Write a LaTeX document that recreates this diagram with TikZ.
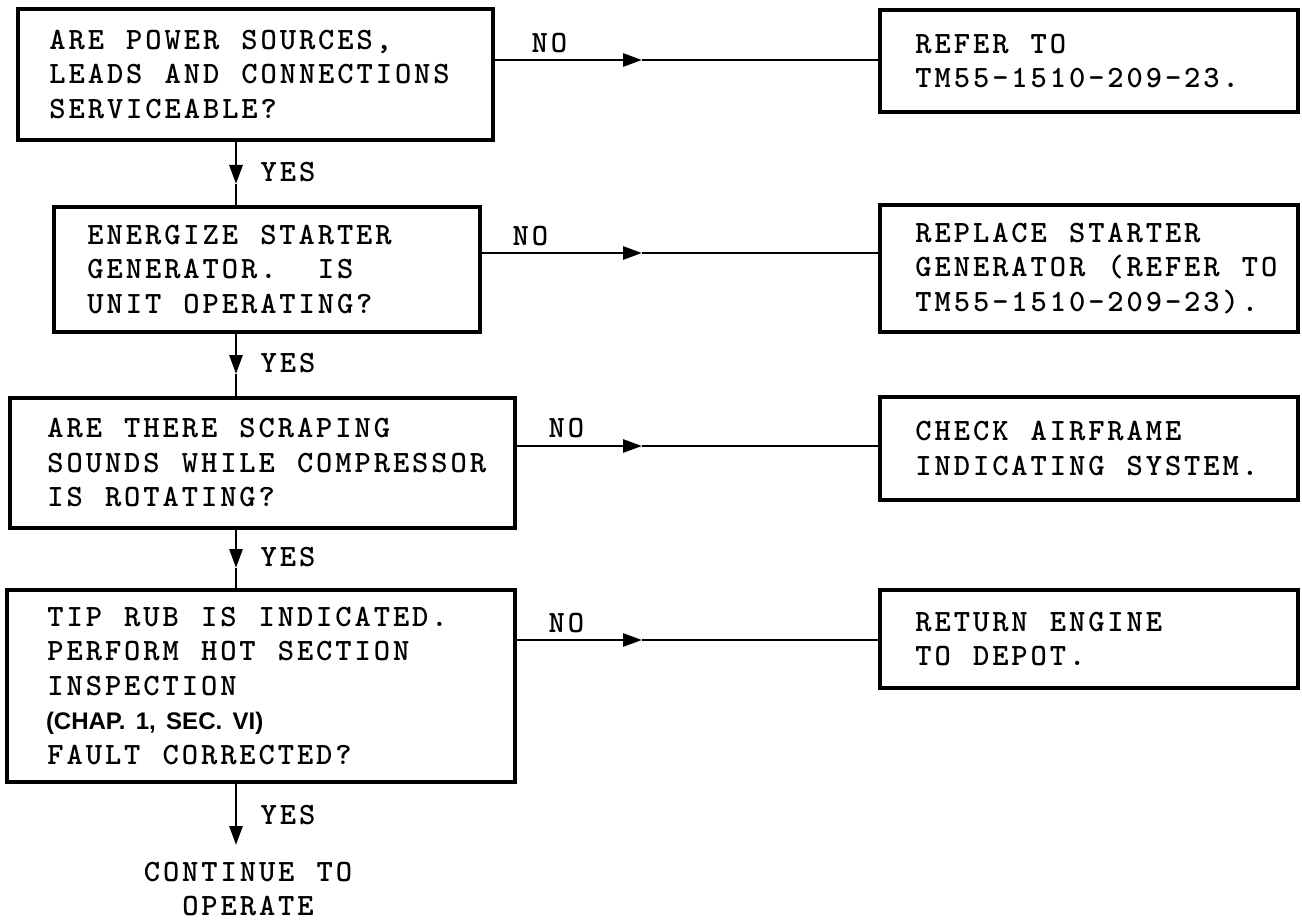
\documentclass[tikz,border=0pt]{standalone}
\usepackage{fontspec}
\usetikzlibrary{arrows.meta}
\newfontfamily\tw{lmmonolt10-bold.otf}
\newfontfamily\chapfont{Liberation Sans}
\ExplSyntaxOn
\dim_new:N \l_typ_pitch_dim
\dim_set:Nn \l_typ_pitch_dim {19.2pt}
\NewDocumentCommand\typ{m}
 {
  \mode_leave_vertical:
  \str_map_inline:nn {#1}
   {
    \str_if_eq:nnTF {##1} {|}
     { \hbox_to_wd:nn { \l_typ_pitch_dim } { } }
     { \hbox_to_wd:nn { \l_typ_pitch_dim } { \hss ##1 \hss } }
   }
 }
\ExplSyntaxOff
\newcommand\twf{\tw\fontsize{31}{34.5}\selectfont}
\tikzset{
  box/.style={draw, line width=4.5pt, rectangle, align=left, inner ysep=0pt, font=\twf},
  lbl/.style={font=\twf, inner sep=0pt, anchor=west},
  conn/.style={line width=2.8pt},
  head/.style={line width=2.8pt, -{Triangle[length=19pt,width=13pt]}},
}
\begin{document}
\begin{tikzpicture}[x=1pt,y=-1pt]
\useasboundingbox (0,0) rectangle (1302,923);
% left column
\node[box, minimum height=131pt, text width=415pt, inner xsep=30pt] (b1) at (255.5,74.5)
  {\typ{ARE POWER SOURCES,}\\\typ{LEADS AND CONNECTIONS}\\\typ{SERVICEABLE?}};
\node[box, minimum height=125pt, text width=362pt, inner xsep=32pt] (b2) at (267,269.5)
  {\typ{ENERGIZE STARTER}\\\typ{GENERATOR. |IS}\\\typ{UNIT OPERATING?}};
\node[box, minimum height=130pt, text width=433pt, inner xsep=36pt] (b3) at (262.5,463)
  {\typ{ARE THERE SCRAPING}\\\typ{SOUNDS WHILE COMPRESSOR}\\\typ{IS ROTATING?}};
\node[box, minimum height=192pt, text width=430pt, inner xsep=39pt] (b4) at (261,686)
  {\typ{TIP RUB IS INDICATED.}\\\typ{PERFORM HOT SECTION}\\\typ{INSPECTION}\\{\chapfont\bfseries\fontsize{24}{34.5}\selectfont (CHAP. 1, SEC. VI)}\\\typ{FAULT CORRECTED?}};
% right column
\node[box, minimum height=102pt, text width=350pt, inner xsep=34pt] (r1) at (1089,61)
  {\typ{REFER TO}\\\typ{TM55-1510-209-23.}};
\node[box, minimum height=127pt, text width=350pt, inner xsep=34pt] (r2) at (1089,268.5)
  {\typ{REPLACE STARTER}\\\typ{GENERATOR (REFER TO}\\\typ{TM55-1510-209-23).}};
\node[box, minimum height=103pt, text width=350pt, inner xsep=34pt] (r3) at (1089,448.5)
  {\typ{CHECK AIRFRAME}\\\typ{INDICATING SYSTEM.}};
\node[box, minimum height=98pt, text width=350pt, inner xsep=34pt] (r4) at (1089,639)
  {\typ{RETURN ENGINE}\\\typ{TO DEPOT.}};
\node[font=\twf, align=center, inner sep=0pt] (end) at (248,889) {\typ{CONTINUE TO}\\\typ{OPERATE}};
% NO connectors
\coordinate (a1) at (642,60);
\coordinate (a2) at (642,253);
\coordinate (a3) at (642,446);
\coordinate (a4) at (642,640);
\draw[head] (b1.east |- a1) -- (a1);
\draw[conn] (a1) -- (r1.west |- a1);
\draw[head] (b2.east |- a2) -- (a2);
\draw[conn] (a2) -- (r2.west |- a2);
\draw[head] (b3.east |- a3) -- (a3);
\draw[conn] (a3) -- (r3.west |- a3);
\draw[head] (b4.east |- a4) -- (a4);
\draw[conn] (a4) -- (r4.west |- a4);
\node[lbl] (n1) at (530,43) {\typ{NO}};
\node[lbl] (n2) at (511,236) {\typ{NO}};
\node[lbl] (n3) at (547,428) {\typ{NO}};
\node[lbl] (n4) at (547,623) {\typ{NO}};
% YES connectors
\coordinate (y1) at (236,184);
\coordinate (y2) at (236,374);
\coordinate (y3) at (236,568);
\coordinate (y4) at (236,845);
\draw[head] (b1.south -| y1) -- (y1);
\draw[conn] (y1) -- (b2.north -| y1);
\draw[head] (b2.south -| y2) -- (y2);
\draw[conn] (y2) -- (b3.north -| y2);
\draw[head] (b3.south -| y3) -- (y3);
\draw[conn] (y3) -- (b4.north -| y3);
\draw[head] (b4.south -| y4) -- (y4);
\node[lbl] (s1) at (259,172) {\typ{YES}};
\node[lbl] (s2) at (259,363) {\typ{YES}};
\node[lbl] (s3) at (259,557) {\typ{YES}};
\node[lbl] (s4) at (259,815) {\typ{YES}};
\end{tikzpicture}
\end{document}
